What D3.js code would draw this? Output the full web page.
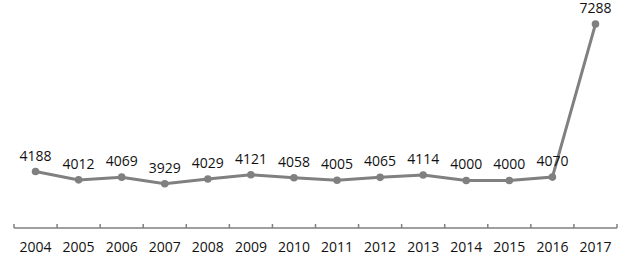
<!DOCTYPE html>
<html>
<head>
<meta charset="utf-8">
<script src="https://cdn.jsdelivr.net/npm/d3@7"></script>
<style>
  body { margin: 0; background: #fff; }
  text { font-family: "Open Sans", sans-serif; }
</style>
</head>
<body>
<div id="chart"></div>
<script>
// data
const years = ["2004","2005","2006","2007","2008","2009","2010","2011","2012","2013","2014","2015","2016","2017"];
const values = [4188, 4012, 4069, 3929, 4029, 4121, 4058, 4005, 4065, 4114, 4000, 4000, 4070, 7288];

const width = 624, height = 257;
const margin = {top: 14, right: 7, bottom: 29, left: 14};

const svg = d3.select("#chart")
  .append("svg")
    .attr("width", width)
    .attr("height", height);

const x = d3.scaleBand()
  .domain(years)
  .range([margin.left, width - margin.right]);

const y = d3.scaleLinear()
  .domain([3000, 7500])
  .range([height - margin.bottom, margin.top]);

// x axis: ticks at band edges, pointing up
const axisY = height - margin.bottom;
const axis = svg.append("g");
axis.append("line")
  .attr("x1", x.range()[0]).attr("x2", x.range()[1])
  .attr("y1", axisY).attr("y2", axisY)
  .attr("stroke", "#7f7f7f").attr("stroke-width", 1.5);
const edges = years.map(d => x(d)).concat([x.range()[1]]);
axis.selectAll(".tk")
  .data(edges)
  .join("line")
    .attr("x1", d => d).attr("x2", d => d)
    .attr("y1", axisY).attr("y2", axisY - 4)
    .attr("stroke", "#7f7f7f").attr("stroke-width", 1.5);
axis.selectAll(".lbl")
  .data(years)
  .join("text")
    .attr("x", d => x(d) + x.bandwidth() / 2)
    .attr("y", axisY + 24)
    .attr("text-anchor", "middle")
    .attr("font-size", 14)
    .attr("fill", "#111")
    .text(d => d);

const pts = years.map((d, i) => ({year: d, value: values[i]}));

// line
svg.append("path")
  .datum(pts)
  .attr("fill", "none")
  .attr("stroke", "#808080")
  .attr("stroke-width", 3)
  .attr("d", d3.line()
    .x(d => x(d.year) + x.bandwidth() / 2)
    .y(d => y(d.value)));

// markers
svg.selectAll(".dot")
  .data(pts)
  .join("circle")
    .attr("cx", d => x(d.year) + x.bandwidth() / 2)
    .attr("cy", d => y(d.value))
    .attr("r", 3.8)
    .attr("fill", "#808080");

// value labels
svg.selectAll(".val")
  .data(pts)
  .join("text")
    .attr("x", d => x(d.year) + x.bandwidth() / 2)
    .attr("y", d => y(d.value) - 11)
    .attr("text-anchor", "middle")
    .attr("font-size", 14)
    .attr("fill", "#111")
    .text(d => d.value);
</script>
</body>
</html>
